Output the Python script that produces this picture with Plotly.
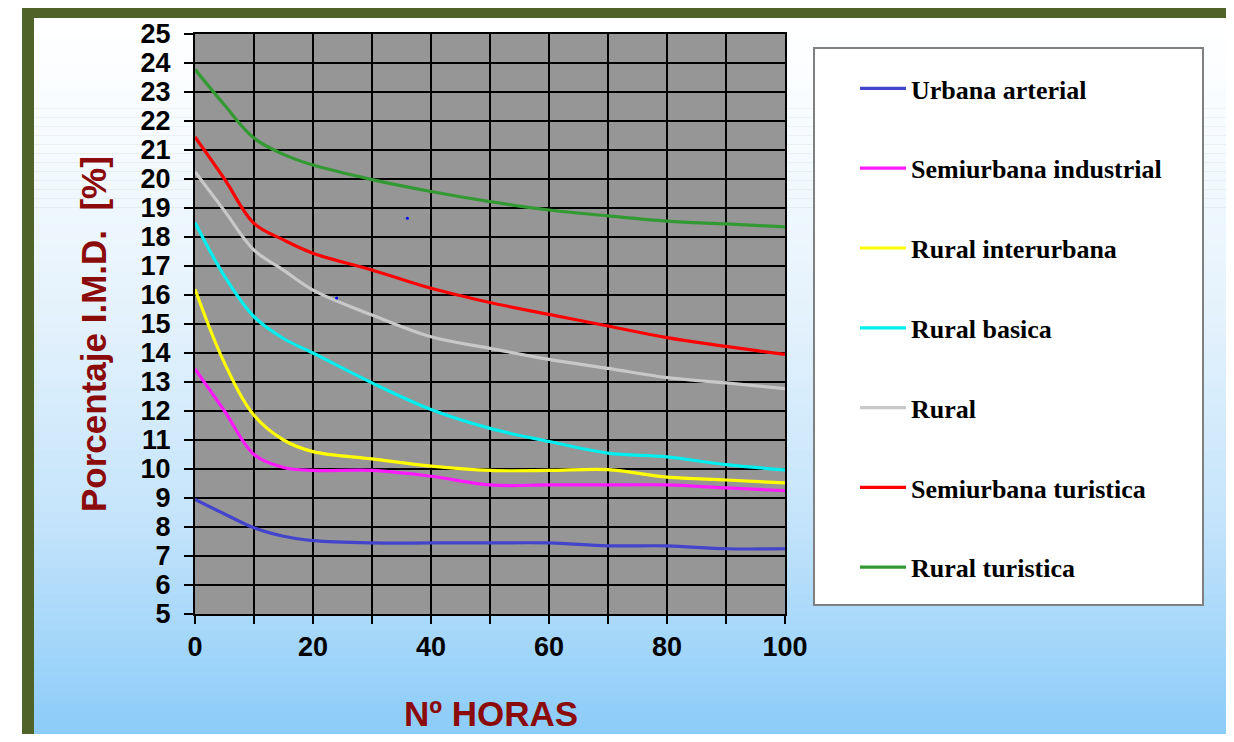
import plotly.graph_objects as go

# ---------------- data ----------------
hours = [0, 5, 10, 15, 20, 30, 40, 50, 60, 70, 80, 90, 100]

urbana_arterial       = [8.95, 8.45, 7.97, 7.68, 7.53, 7.45, 7.45, 7.45, 7.45, 7.35, 7.35, 7.25, 7.25]
semiurbana_industrial = [13.45, 12.0, 10.5, 10.05, 9.95, 9.95, 9.75, 9.45, 9.45, 9.45, 9.45, 9.35, 9.25]
rural_interurbana     = [16.2, 13.65, 11.85, 11.0, 10.6, 10.35, 10.1, 9.95, 9.95, 9.98, 9.72, 9.62, 9.52]
rural_basica          = [18.5, 16.65, 15.25, 14.5, 14.0, 12.97, 12.05, 11.4, 10.95, 10.55, 10.42, 10.15, 9.97]
rural                 = [20.25, 18.9, 17.55, 16.86, 16.17, 15.31, 14.56, 14.16, 13.78, 13.47, 13.15, 12.97, 12.77]
semiurbana_turistica  = [21.45, 20.0, 18.47, 17.9, 17.44, 16.86, 16.23, 15.74, 15.33, 14.93, 14.53, 14.23, 13.95]
rural_turistica       = [23.78, 22.55, 21.41, 20.85, 20.48, 19.98, 19.57, 19.22, 18.93, 18.73, 18.55, 18.45, 18.35]

series_names = ["Urbana arterial", "Semiurbana industrial", "Rural interurbana",
                "Rural basica", "Rural", "Semiurbana turistica", "Rural turistica"]
series_values = [urbana_arterial, semiurbana_industrial, rural_interurbana,
                 rural_basica, rural, semiurbana_turistica, rural_turistica]
series_colors = ["#4343CC", "#FF1AFF", "#FFFF00", "#00EEEE", "#C8C8C8", "#FF0000", "#339933"]

stray_x = [24, 36]
stray_y = [15.9, 18.65]

x_tickvals = [0, 10, 20, 30, 40, 50, 60, 70, 80, 90, 100]
x_ticktext = ["0", "", "20", "", "40", "", "60", "", "80", "", "100"]
y_tickvals = list(range(5, 26))

# ---------------- geometry (page pixels; the page body adds an 8px offset) ----------------
OFF = 8
W, H = 1234 - OFF, 742 - 2 * OFF
PL, PR, PT, PB = 195 - OFF, 785 - OFF, 34 - OFF, 614 - OFF


def px(xp):
    return (xp - OFF - PL) / (PR - PL)


def py(yp):
    return (PB - (yp - OFF)) / (PB - PT)


fig = go.Figure()

for name, vals, col in zip(series_names, series_values, series_colors):
    fig.add_trace(go.Scatter(
        x=hours, y=vals, name=name, mode="lines",
        line=dict(color=col, width=3.2, shape="spline", smoothing=1.0),
        legendgroup=name,
    ))

fig.add_trace(go.Scatter(
    x=stray_x, y=stray_y, mode="markers", showlegend=False,
    marker=dict(color="#0000FF", size=3),
))

# ---------------- background shapes ----------------
shapes = []
# olive frame
shapes.append(dict(type="rect", xref="paper", yref="paper", layer="below",
                   x0=px(22), x1=px(1250), y0=py(6), y1=py(760),
                   fillcolor="#4F6228", line=dict(width=0)))

# vertical gradient white -> light blue inside the frame
stops = [(18, (255, 255, 255)), (140, (246, 251, 255)), (330, (226, 241, 252)),
         (520, (196, 228, 251)), (739, (138, 204, 248))]


def col_at(y):
    for (y0, c0), (y1, c1) in zip(stops[:-1], stops[1:]):
        if y0 <= y <= y1:
            t = (y - y0) / (y1 - y0)
            return tuple(round(c0[i] + (c1[i] - c0[i]) * t) for i in range(3))
    return stops[-1][1]


top, bot = 18, 739
n = 80
step = (bot - top) / n
for i in range(n):
    y0 = top + i * step
    y1 = y0 + step + 0.6
    c = col_at(y0 + step / 2)
    shapes.append(dict(type="rect", xref="paper", yref="paper", layer="below",
                       x0=px(34), x1=px(1231), y0=py(y0), y1=py(min(y1, bot)),
                       fillcolor="rgb(%d,%d,%d)" % c, line=dict(width=0)))

# plot area grey
shapes.append(dict(type="rect", xref="paper", yref="paper", layer="below",
                   x0=0, x1=1, y0=0, y1=1, fillcolor="#969696", line=dict(width=0)))

# legend box
shapes.append(dict(type="rect", xref="paper", yref="paper", layer="below",
                   x0=px(814), x1=px(1203), y0=py(48), y1=py(605),
                   fillcolor="#FFFFFF", line=dict(color="#808080", width=2)))

annotations = [
    dict(text="Nº HORAS", xref="paper", yref="paper", x=px(491), y=py(713),
         xanchor="center", yanchor="middle", showarrow=False,
         font=dict(family="Liberation Sans, Arial", size=35, color="#8B0A0A", weight="bold")),
    dict(text="Porcentaje I.M.D.  [%]", xref="paper", yref="paper", x=px(94), y=py(334),
         xanchor="center", yanchor="middle", showarrow=False, textangle=-90,
         font=dict(family="Liberation Sans, Arial", size=35, color="#8B0A0A", weight="bold")),
]

tickfont = dict(family="Liberation Sans, Arial", size=27, color="#000000", weight="bold")

fig.update_layout(
    width=W, height=H,
    margin=dict(l=PL, r=W - PR, t=PT, b=H - PB, autoexpand=False),
    paper_bgcolor="#FFFFFF",
    plot_bgcolor="#969696",
    shapes=shapes,
    annotations=annotations,
    showlegend=True,
    legend=dict(
        x=px(855), y=py(65), xanchor="left", yanchor="top",
        bgcolor="rgba(0,0,0,0)", borderwidth=0,
        font=dict(family="Liberation Serif, Times New Roman", size=26, color="#000000", weight="bold"),
        itemwidth=46, tracegroupgap=43, traceorder="grouped",
    ),
    xaxis=dict(
        range=[0, 100], tickmode="array", tickvals=x_tickvals, ticktext=x_ticktext,
        showgrid=True, gridcolor="#000000", gridwidth=2,
        showline=True, linecolor="#000000", linewidth=2, mirror=True,
        zeroline=False, ticks="outside", ticklen=8, tickwidth=2, tickcolor="#000000",
        tickfont=tickfont, fixedrange=True,
    ),
    yaxis=dict(
        range=[5, 25], tickmode="array", tickvals=y_tickvals,
        showgrid=True, gridcolor="#000000", gridwidth=2,
        showline=True, linecolor="#000000", linewidth=2, mirror=True,
        zeroline=False, ticks="outside", ticklen=9, tickwidth=2, tickcolor="#000000",
        tickfont=tickfont, ticklabelstandoff=8, fixedrange=True,
    ),
)

fig.write_html("out.html")
